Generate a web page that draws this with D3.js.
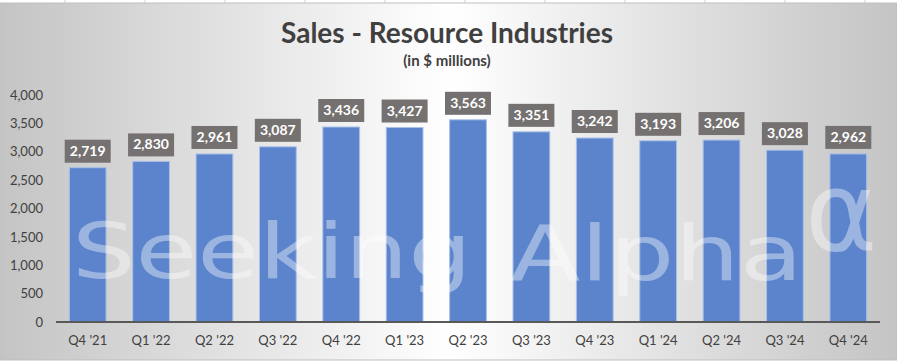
<!DOCTYPE html>
<html>
<head>
<meta charset="utf-8">
<script src="https://cdn.jsdelivr.net/npm/d3@7"></script>
<style>
  body { margin: 0; background: #fff; }
  svg { display: block; }
</style>
</head>
<body>
<svg id="graph"></svg>
<script>
// Données du graphique
const trimestres = ["Q4 '21", "Q1 '22", "Q2 '22", "Q3 '22", "Q4 '22", "Q1 '23", "Q2 '23",
  "Q3 '23", "Q4 '23", "Q1 '24", "Q2 '24", "Q3 '24", "Q4 '24"];
const ventes = [2719, 2830, 2961, 3087, 3436, 3427, 3563, 3351, 3242, 3193, 3206, 3028, 2962];
const ticksY = [0, 500, 1000, 1500, 2000, 2500, 3000, 3500, 4000];

const largeur = 897, hauteur = 362;
const police = "Lato, 'Open Sans', sans-serif";

const svg = d3.select('#graph')
  .attr("width", largeur)
  .attr("height", hauteur);

// Fond dégradé gris / blanc / gris
const defs = svg.append("defs");
const grad = defs.append("linearGradient").attr("id", "fond")
  .attr("x1", "0%").attr("y1", "0%").attr("x2", "100%").attr("y2", "0%");
grad.append("stop").attr("offset", "0%").attr("stop-color", "#c4c4c4");
grad.append("stop").attr("offset", "50%").attr("stop-color", "#ffffff");
grad.append("stop").attr("offset", "100%").attr("stop-color", "#c4c4c4");

// Bande de grille du tableur en haut
svg.append("rect").attr("x", 0).attr("y", 0).attr("width", largeur).attr("height", 3).attr("fill", "#fff");
d3.range(65, largeur, 80).forEach(x => {
  svg.append("line").attr("x1", x).attr("x2", x).attr("y1", 0).attr("y2", 3)
    .attr("stroke", "#d4d4d4");
});

svg.append("rect")
  .attr("x", 0).attr("y", 3)
  .attr("width", largeur).attr("height", hauteur - 5)
  .attr("fill", "url(#fond)")
  .attr("stroke", "#bfbfbf");

// Échelles
const x = d3.scaleBand()
  .domain(trimestres)
  .range([56, 880])
  .paddingInner(0.42)
  .paddingOuter(0.21);

const y = d3.scaleLinear()
  .domain([0, 4000])
  .range([322, 95]);

// Titre
svg.append("text")
  .attr("x", 447).attr("y", 43)
  .attr("text-anchor", "middle")
  .attr("font-family", police)
  .attr("font-weight", "bold")
  .attr("font-size", 28)
  .attr("fill", "#404040")
  .text("Sales - Resource Industries");

svg.append("text")
  .attr("x", 447).attr("y", 66)
  .attr("text-anchor", "middle")
  .attr("font-family", police)
  .attr("font-weight", "bold")
  .attr("font-size", 15)
  .attr("fill", "#404040")
  .text("(in $ millions)");

// Axe Y (libellés seulement)
const axeY = svg.append("g")
  .attr("transform", "translate(43,0)")
  .call(d3.axisLeft(y).tickValues(ticksY).tickFormat(d3.format(",")).tickSize(0).tickPadding(0));
axeY.select(".domain").remove();
axeY.selectAll("text")
  .attr("font-family", police)
  .attr("font-size", 13)
  .attr("fill", "#404040");

// Barres
svg.append("g").selectAll("rect")
  .data(ventes)
  .enter().append("rect")
  .attr("x", (d, i) => x(trimestres[i]))
  .attr("y", d => y(d))
  .attr("width", x.bandwidth())
  .attr("height", d => y(0) - y(d))
  .attr("fill", "#5b84cc")
  .attr("stroke", "#a9c0e8")
  .attr("stroke-width", 1);

// Filigrane
const filigrane = svg.append("g").attr("opacity", 0.4).attr("fill", "#ffffff");
filigrane.append("text")
  .attr("x", 72).attr("y", 278)
  .attr("font-family", "'DejaVu Sans', sans-serif")
  .attr("font-size", 76)
  .attr("textLength", 400)
  .attr("lengthAdjust", "spacingAndGlyphs")
  .text("Seeking");
filigrane.append("text")
  .attr("x", 510).attr("y", 280)
  .attr("font-family", "'DejaVu Sans', sans-serif")
  .attr("font-size", 76)
  .attr("textLength", 293)
  .attr("lengthAdjust", "spacingAndGlyphs")
  .text("Alpha");
filigrane.append("text")
  .attr("x", 805).attr("y", 250)
  .attr("font-family", "'DejaVu Sans', sans-serif")
  .attr("font-size", 110)
  .text("α");

// Axe X
svg.append("line")
  .attr("x1", 56).attr("x2", 880)
  .attr("y1", y(0)).attr("y2", y(0))
  .attr("stroke", "#595959").attr("stroke-width", 2);

const axeX = svg.append("g")
  .attr("transform", `translate(0,${y(0)})`)
  .call(d3.axisBottom(x).tickSize(0).tickPadding(14));
axeX.select(".domain").remove();
axeX.selectAll("text")
  .attr("font-family", police)
  .attr("font-size", 13)
  .attr("fill", "#404040");

// Étiquettes de valeur
const etiquettes = svg.append("g").selectAll("g")
  .data(ventes)
  .enter().append("g")
  .attr("transform", (d, i) => `translate(${x(trimestres[i]) + x.bandwidth() / 2},${y(d) - 5})`);

etiquettes.append("rect")
  .attr("x", -23).attr("y", -23)
  .attr("width", 46).attr("height", 23)
  .attr("fill", "#767171");

etiquettes.append("text")
  .attr("y", -7)
  .attr("text-anchor", "middle")
  .attr("font-family", police)
  .attr("font-weight", "bold")
  .attr("font-size", 14)
  .attr("fill", "#ffffff")
  .text(d => d3.format(",")(d));
</script>
</body>
</html>
